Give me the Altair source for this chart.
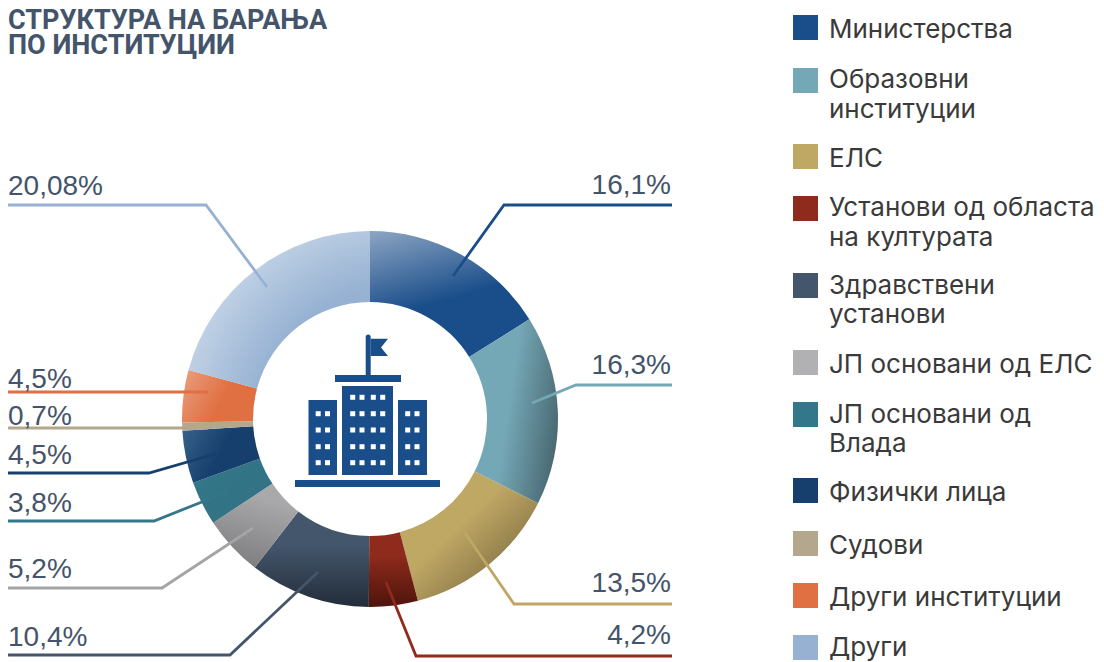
import math
from itertools import accumulate, product
import altair as alt
import pandas as pd

# ---- data ----
title_lines = ["СТРУКТУРА НА БАРАЊА", "ПО ИНСТИТУЦИИ"]
categories = ["Министерства", "Образовни институции", "ЕЛС", "Установи од областа на културата",
              "Здравствени установи", "ЈП основани од ЕЛС", "ЈП основани од Влада", "Физички лица",
              "Судови", "Други институции", "Други"]
# the last slice is drawn at 20,8 % of the ring although its label reads 20,08%
values = [16.1, 16.3, 13.5, 4.2, 10.4, 5.2, 3.8, 4.5, 0.7, 4.5, 20.8]
value_labels = ["16,1%", "16,3%", "13,5%", "4,2%", "10,4%", "5,2%", "3,8%", "4,5%", "0,7%", "4,5%", "20,08%"]
legend_colors = ["#1a4e8a", "#75a8b7", "#bfa764", "#8f2b1c", "#44566c", "#b1b1b3", "#33788a",
                 "#163f6d", "#b3a88e", "#e06f42", "#96b1d2"]
leader_colors = ["#1a4e8a", "#75a8b7", "#bfa764", "#8f2b1c", "#44566c", "#a4a4a4", "#33788a",
                 "#163f6d", "#b3a88e", "#e06f42", "#96b1d2"]
legend_lines = [["Министерства"], ["Образовни", "институции"], ["ЕЛС"], ["Установи од областа", "на културата"],
                ["Здравствени", "установи"], ["ЈП основани од ЕЛС"], ["ЈП основани од", "Влада"],
                ["Физички лица"], ["Судови"], ["Други институции"], ["Други"]]

# ---- layout (reference page pixels) ----
W, H = 1088, 654
CX, CY, R_OUT, R_IN = 370, 419, 188, 117
TEXT = "#44546a"

def px(field="x"):
    return alt.X(f"{field}:Q", scale=alt.Scale(domain=[8, 1096], nice=False, zero=False), axis=None)

def py(field="y"):
    return alt.Y(f"{field}:Q", scale=alt.Scale(domain=[662, 8], nice=False, zero=False), axis=None)

def grad(c1, c2, o1, o2, x1, y1, x2, y2):
    return alt.LinearGradient(gradient="linear", x1=x1, y1=y1, x2=x2, y2=y2,
                              stops=[alt.GradientStop(color=c1, offset=o1), alt.GradientStop(color=c2, offset=o2)])

fills = [
    grad("#8aa3c2", "#1a4e8a", 0, 0.62, 0.05, 0, 0.4, 1),
    grad("#75a8b7", "#4a6a73", 0.45, 1, 0, 0.3, 1, 0.6),
    grad("#bfa764", "#6e5e38", 0.38, 1, 0.1, 0.1, 0.95, 0.95),
    grad("#8f2b1c", "#4e140c", 0.3, 1, 0.5, 0, 0.5, 1),
    grad("#44566c", "#232d3a", 0.35, 1, 0.5, 0, 0.5, 1),
    grad("#a9a9ab", "#7c7c7e", 0.15, 1, 0.6, 0, 0.3, 1),
    grad("#33788a", "#327082", 0, 1, 0, 0, 1, 1),
    grad("#366189", "#163f6d", 0, 0.55, 0, 0.1, 1, 0.5),
    grad("#b3a88e", "#b3a88e", 0, 1, 0, 0, 1, 0),
    grad("#e99a78", "#e06f42", 0, 0.6, 0, 0.2, 1, 0.6),
    alt.RadialGradient(gradient="radial", x1=1.2, y1=1.2, x2=1.2, y2=1.2, r1=0, r2=1.3,
                       stops=[alt.GradientStop(color="#96b1d2", offset=0.65),
                              alt.GradientStop(color="#c2d3e6", offset=1)]),
]

ends = list(accumulate(values))
starts = [0.0] + ends[:-1]
total = ends[-1]
slices = pd.DataFrame({"category": categories, "start": starts, "end": ends})

theta_scale = alt.Scale(domain=[0, total], range=[0, 2 * math.pi])
arc_layers = [
    alt.Chart(slices).transform_filter(alt.datum.category == cat)
    .mark_arc(radius=R_OUT, radius2=R_IN, fill=fills[i])
    .encode(theta=alt.Theta("start:Q", scale=theta_scale), theta2="end:Q",
            x=alt.value(CX - 8), y=alt.value(CY - 8))
    for i, cat in enumerate(categories)
]

# leader lines: anchor in slice, elbow, end at the margin
leader_paths = [
    [(453, 276), (504, 205), (672, 205)],
    [(532, 403), (576, 385), (672, 385)],
    [(465, 533), (514, 604), (672, 604)],
    [(386, 582), (416, 656), (672, 656)],
    [(318, 572), (230, 655), (8, 655)],
    [(253, 528), (162, 588), (8, 588)],
    [(227, 492), (154, 521), (8, 521)],
    [(215, 454), (149, 473), (8, 473)],
    [(208, 428), (8, 428)],
    [(208, 392), (8, 392)],
    [(267, 287), (206, 205), (8, 205)],
]
leaders = pd.DataFrame([
    {"s": i, "o": j, "x": p[0], "y": p[1], "c": leader_colors[i]}
    for i, path in enumerate(leader_paths) for j, p in enumerate(path)
])
leader_layer = alt.Chart(leaders).mark_line(strokeWidth=2.8, strokeJoin="miter").encode(
    x=px(), y=py(), detail="s:N", order="o:Q", color=alt.Color("c:N", scale=None))

# value labels
label_pos = [(671, 194, "right"), (671, 374, "right"), (671, 592, "right"), (671, 644, "right"),
             (8, 646, "left"), (8, 578, "left"), (8, 512, "left"), (8, 464, "left"),
             (8, 425, "left"), (8, 388, "left"), (8, 195, "left")]
labels = pd.DataFrame({"t": value_labels, "x": [p[0] for p in label_pos], "y": [p[1] for p in label_pos],
                       "a": [p[2] for p in label_pos]})
label_layers = [
    alt.Chart(labels[labels.a == a]).mark_text(font="Liberation Sans", fontSize=28, color=TEXT, align=a,
                                               baseline="alphabetic")
    .encode(x=px(), y=py(), text="t:N")
    for a in ["left", "right"]
]

# title
title_df = pd.DataFrame({"t": title_lines, "x": [8, 8], "y": [29, 54]})
title_layer = alt.Chart(title_df).mark_text(font="Roboto", fontSize=27, fontWeight="bold", color=TEXT,
                                            align="left", baseline="alphabetic").encode(x=px(), y=py(), text="t:N")

# legend
sq_tops = [15, 68, 144, 196, 273, 350, 402, 478, 531, 583, 635]
baselines = [[38], [88, 118], [167], [216, 246], [294, 323], [373], [423, 452], [501], [554], [606], [656]]
legend_sq = pd.DataFrame({"x": [793] * 11, "x2": [818] * 11, "y": sq_tops, "y2": [t + 25 for t in sq_tops],
                          "c": legend_colors})
legend_sq_layer = alt.Chart(legend_sq).mark_rect().encode(
    x=px(), x2="x2:Q", y=py(), y2="y2:Q", color=alt.Color("c:N", scale=None))
legend_txt = pd.DataFrame([
    {"t": t, "x": 829, "y": b}
    for lines, bs in zip(legend_lines, baselines) for t, b in zip(lines, bs)
])
legend_txt_layer = alt.Chart(legend_txt).mark_text(font="Inter", fontSize=26, color="#3a3a3a", align="left",
                                                   baseline="alphabetic").encode(x=px(), y=py(), text="t:N")

# centre icon
ICON = "#1a4e8a"
blocks = pd.DataFrame([
    {"x": 295, "x2": 440, "y": 480, "y2": 487},
    {"x": 308.5, "x2": 337, "y": 400, "y2": 475},
    {"x": 342, "x2": 393, "y": 386, "y2": 475},
    {"x": 398, "x2": 427, "y": 400, "y2": 475},
    {"x": 335, "x2": 401, "y": 375, "y2": 382},
])
block_layer = alt.Chart(blocks).mark_rect(color=ICON).encode(x=px(), x2="x2:Q", y=py(), y2="y2:Q")
pole = pd.DataFrame({"x": [368.2], "y": [337], "y2": [376]})
pole_layer = alt.Chart(pole).mark_rule(color=ICON, strokeWidth=5, strokeCap="round").encode(x=px(), y=py(), y2="y2:Q")
flag = pd.DataFrame({"x": [379.3], "y": [347.4]})
flag_layer = alt.Chart(flag).mark_point(
    shape="M-1,-1L1,-1L0.2,0L1,1L-1,1Z", filled=True, size=300, color=ICON, opacity=1, strokeWidth=0
).encode(x=px(), y=py())
rows_side = [413.7, 430, 446.7, 462.7]
rows_mid = [397.3] + rows_side
windows = pd.DataFrame(
    [{"x": a, "y": b} for a, b in product([318.2, 327.5, 407.7, 417], rows_side)]
    + [{"x": a, "y": b} for a, b in product([352.7, 362, 373.3, 382.7], rows_mid)]
)
window_layer = alt.Chart(windows).mark_square(size=25, color="white", opacity=1, strokeWidth=0).encode(x=px(), y=py())

chart = alt.layer(
    *arc_layers, leader_layer, *label_layers, title_layer, legend_sq_layer, legend_txt_layer,
    block_layer, pole_layer, flag_layer, window_layer
).resolve_scale(color="independent").properties(
    width=W, height=H, padding=0, autosize=alt.AutoSizeParams(type="none"), background="white"
).configure_view(stroke=None)

chart.save("out.html", embed_options={"renderer": "svg", "actions": False})
